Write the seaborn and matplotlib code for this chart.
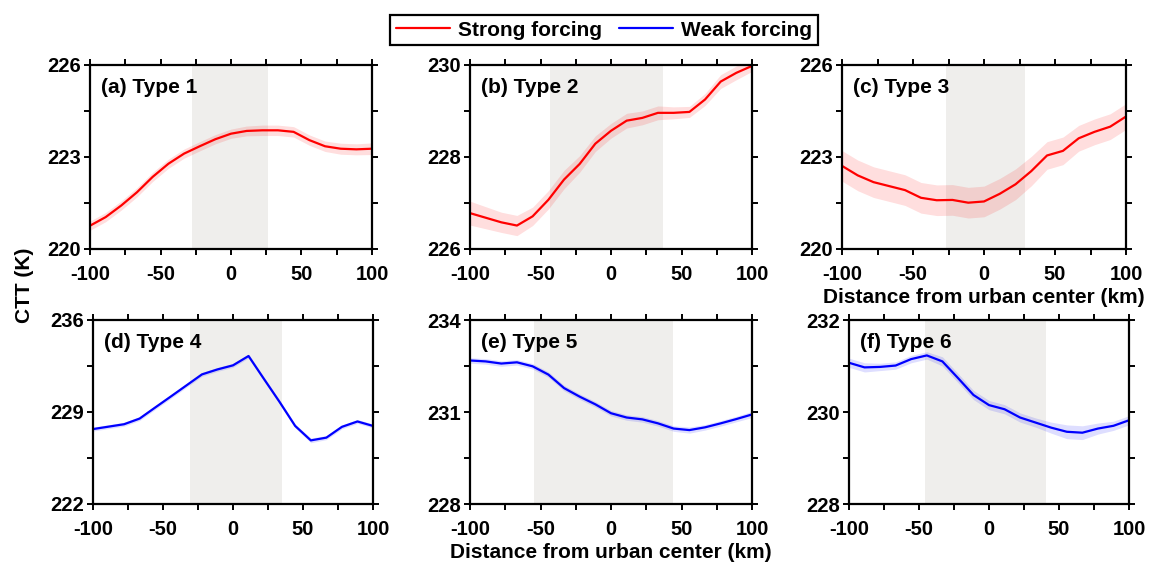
import numpy as np
import pandas as pd
import matplotlib
matplotlib.use("Agg")
import matplotlib.pyplot as plt
from matplotlib.lines import Line2D
from matplotlib.ticker import MultipleLocator
import seaborn as sns

# ---------------- data ----------------
distance = [-100, -88.9, -77.8, -66.7, -55.6, -44.4, -33.3, -22.2, -11.1, 0,
            11.1, 22.2, 33.3, 44.4, 55.6, 66.7, 77.8, 88.9, 100]

type1 = [220.76, 221.04, 221.42, 221.85, 222.35, 222.78, 223.11, 223.35, 223.58, 223.76,
         223.85, 223.87, 223.87, 223.82, 223.55, 223.35, 223.27, 223.25, 223.27]
type1_err = [0.15, 0.15, 0.15, 0.15, 0.15, 0.15, 0.15, 0.15, 0.15, 0.15,
             0.16, 0.17, 0.17, 0.17, 0.17, 0.17, 0.18, 0.18, 0.19]

type2 = [226.78, 226.68, 226.58, 226.51, 226.71, 227.07, 227.51, 227.85, 228.29, 228.57,
         228.79, 228.85, 228.96, 228.96, 228.98, 229.25, 229.64, 229.83, 229.98]
type2_err = [0.26, 0.24, 0.22, 0.22, 0.2, 0.2, 0.2, 0.18, 0.17, 0.16,
             0.16, 0.15, 0.15, 0.13, 0.12, 0.13, 0.15, 0.15, 0.12]

type3 = [222.71, 222.40, 222.18, 222.05, 221.92, 221.67, 221.59, 221.60, 221.51, 221.55,
         221.80, 222.11, 222.54, 223.05, 223.20, 223.61, 223.82, 223.99, 224.32]
type3_err = [0.5, 0.5, 0.5, 0.5, 0.5, 0.5, 0.5, 0.5, 0.5, 0.5,
             0.5, 0.5, 0.48, 0.45, 0.45, 0.42, 0.42, 0.42, 0.42]

type4_x = [-100, -77.8, -66.7, -55.6, -44.4, -33.3, -22.2, -11.1, 0, 11.1,
           22.2, 33.3, 44.4, 55.6, 66.7, 77.8, 88.9, 100]
type4 = [227.7, 228.07, 228.5, 229.34, 230.18, 231.02, 231.86, 232.24, 232.55, 233.26,
         231.5, 229.76, 227.94, 226.84, 227.05, 227.87, 228.28, 227.94]
type4_err = [0.15, 0.15, 0.15, 0.15, 0.15, 0.15, 0.15, 0.15, 0.15, 0.15,
             0.15, 0.15, 0.15, 0.18, 0.15, 0.15, 0.15, 0.15]

type5 = [232.68, 232.65, 232.58, 232.62, 232.49, 232.22, 231.78, 231.50, 231.25, 230.96,
         230.82, 230.76, 230.63, 230.46, 230.41, 230.50, 230.63, 230.77, 230.92]
type5_err = [0.09, 0.09, 0.09, 0.09, 0.09, 0.09, 0.09, 0.09, 0.09, 0.09,
             0.09, 0.09, 0.09, 0.09, 0.1, 0.09, 0.09, 0.09, 0.1]

type6 = [231.07, 230.97, 230.98, 231.01, 231.15, 231.23, 231.10, 230.74, 230.37, 230.15,
         230.06, 229.88, 229.77, 229.66, 229.57, 229.55, 229.64, 229.70, 229.82]
type6_err = [0.1, 0.1, 0.08, 0.08, 0.08, 0.08, 0.1, 0.1, 0.1, 0.1,
             0.1, 0.1, 0.1, 0.12, 0.15, 0.15, 0.12, 0.1, 0.1]

panel_labels = ["(a) Type 1", "(b) Type 2", "(c) Type 3",
                "(d) Type 4", "(e) Type 5", "(f) Type 6"]
urban_extent = [(-27.5, 26.5), (-43.5, 37.0), (-27.0, 29.0),
                (-31.0, 35.0), (-54.5, 44.0), (-46.0, 40.5)]
yticks = [[220, 223, 226], [226, 228, 230], [220, 223, 226],
          [222, 229, 236], [228, 231, 234], [228, 230, 232]]
xticks = [-100, -50, 0, 50, 100]
legend_labels = ["Strong forcing", "Weak forcing"]

# ---------------- style ----------------
sns.set_theme(style="ticks")
plt.rcParams["font.family"] = ["Liberation Sans", "DejaVu Sans"]
plt.rcParams["font.weight"] = "bold"
plt.rcParams["axes.labelweight"] = "bold"
plt.rcParams["axes.unicode_minus"] = False
plt.rcParams["text.color"] = "black"
plt.rcParams["axes.labelcolor"] = "black"
plt.rcParams["xtick.color"] = "black"
plt.rcParams["ytick.color"] = "black"

RED = "#ff0000"
BLUE = "#0000ff"
SHADE = "#efeeec"
FS = 15

fig = plt.figure(figsize=(11.52, 5.62), dpi=100)

W, H = 1152, 562
boxes = [(90, 65, 372, 249), (470, 65, 752, 249), (842, 65, 1126, 249),
         (93, 320, 373, 504), (470, 320, 752, 504), (849, 320, 1129, 504)]

series = [(distance, type1, type1_err, RED),
          (distance, type2, type2_err, RED),
          (distance, type3, type3_err, RED),
          (type4_x, type4, type4_err, BLUE),
          (distance, type5, type5_err, BLUE),
          (distance, type6, type6_err, BLUE)]

axes = []
for i, (l, t, r, b) in enumerate(boxes):
    ax = fig.add_axes([l / W, 1 - b / H, (r - l) / W, (b - t) / H])
    axes.append(ax)
    xs, ys, es, col = series[i]
    df = pd.DataFrame({"x": xs, "y": ys, "e": es})
    ax.axvspan(*urban_extent[i], color=SHADE, lw=0, zorder=0)
    ax.fill_between(df["x"], df["y"] - df["e"], df["y"] + df["e"],
                    color=col, alpha=0.13, lw=0, zorder=1)
    sns.lineplot(data=df, x="x", y="y", ax=ax, color=col, lw=1.6, zorder=2)
    ax.set_xlim(-100, 100)
    yt = yticks[i]
    ax.set_ylim(yt[0], yt[-1])
    ax.set_xticks(xticks)
    ax.xaxis.set_minor_locator(MultipleLocator(25))
    ax.set_yticks(yt)
    ax.set_yticks([(yt[0] + yt[1]) / 2, (yt[1] + yt[2]) / 2], minor=True)
    ax.set_yticklabels([str(v) for v in yt])
    ax.tick_params(which="both", direction="out", top=True, right=True,
                   length=4.5, width=1.4, color="black", labelsize=14.5,
                   labelcolor="black")
    ax.tick_params(axis="x", pad=7)
    ax.tick_params(axis="y", pad=2)
    for lab in ax.get_xticklabels() + ax.get_yticklabels():
        lab.set_fontweight("bold")
    for sp in ax.spines.values():
        sp.set_visible(True)
        sp.set_linewidth(1.6)
        sp.set_color("black")
    ax.set_xlabel("")
    ax.set_ylabel("")
    ax.text(0.04, 0.93, panel_labels[i], transform=ax.transAxes,
            fontsize=FS, fontweight="bold", va="top", ha="left", color="black")

for k in (2, 4):
    axes[k].set_xlabel("Distance from urban center (km)", fontsize=FS,
                       fontweight="bold", labelpad=3, color="black")
fig.text(24 / W, 1 - 285 / H, "CTT (K)", rotation=90, fontsize=FS,
         fontweight="bold", va="center", ha="center", color="black")

handles = [Line2D([], [], color=RED, lw=1.6), Line2D([], [], color=BLUE, lw=1.6)]
leg = fig.legend(handles, legend_labels, loc="center", ncol=2,
                 bbox_to_anchor=(604 / W, 1 - 30 / H), frameon=True,
                 fancybox=False, framealpha=1, edgecolor="black",
                 prop={"size": FS, "weight": "bold"},
                 handlelength=2.6, handletextpad=0.4, columnspacing=0.8,
                 borderpad=0.25)
leg.get_frame().set_linewidth(1.6)

fig.savefig("out.png", dpi=100, facecolor="white")
